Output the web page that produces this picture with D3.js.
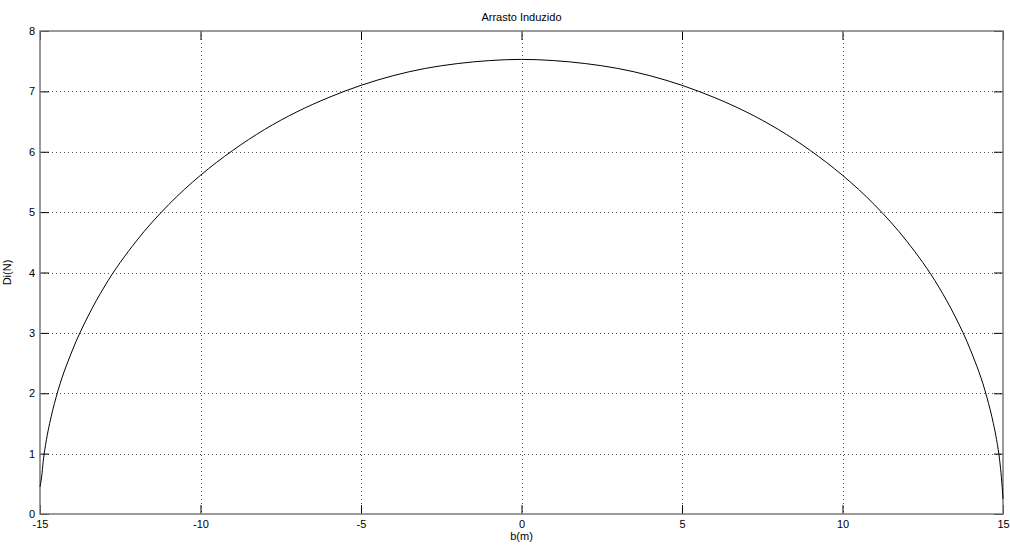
<!DOCTYPE html>
<html>
<head>
<meta charset="utf-8">
<script src="https://cdn.jsdelivr.net/npm/d3@7"></script>
<style>
  body { margin: 0; background: #fff; }
  svg { display: block; }
  text { font-family: Arial, "Liberation Sans", Helvetica, sans-serif; font-size: 11px; fill: #000; }
  .grid line { stroke: #555; stroke-dasharray: 1,3; shape-rendering: crispEdges; }
</style>
</head>
<body>
<svg id="chart"></svg>
<script>
// valores
const spanB = [-15, -14.95, -14.9, -14.8, -14.7, -14.5, -14, -13.5, -13, -12, -11, -10, -9, -8, -7, -6, -5, -4, -3, -2, -1,
  0, 1, 2, 3, 4, 5, 6, 7, 8, 9, 10, 11, 12, 13, 13.5, 14, 14.5, 14.7, 14.8, 14.9, 14.95, 15];
const dragDi = [0.45, 0.61, 0.87, 1.23, 1.50, 1.93, 2.70, 3.28, 3.76, 4.52, 5.12, 5.61, 6.02, 6.37, 6.66, 6.90, 7.10, 7.26, 7.38, 7.46, 7.51,
  7.53, 7.51, 7.46, 7.38, 7.26, 7.10, 6.90, 6.66, 6.37, 6.02, 5.61, 5.12, 4.52, 3.76, 3.28, 2.70, 1.93, 1.50, 1.23, 0.87, 0.61, 0.25];
const xTicks = [-15, -10, -5, 0, 5, 10, 15];
const yTicks = [0, 1, 2, 3, 4, 5, 6, 7, 8];

const width = 1010, height = 549;
const pLeft = 40, pRight = 1003, pTop = 31, pBottom = 514;

const svg = d3.select('#chart').attr('width', width).attr('height', height);

const x = d3.scaleLinear().domain([-15, 15]).range([pLeft, pRight]);
const y = d3.scaleLinear().domain([0, 8]).range([pBottom, pTop]);

// grade pontilhada
const grid = svg.append('g').attr('class', 'grid');
grid.selectAll('line.v').data(xTicks.slice(1, -1)).enter().append('line')
  .attr('x1', d => Math.round(x(d)) + 0.5).attr('x2', d => Math.round(x(d)) + 0.5)
  .attr('y1', pTop).attr('y2', pBottom);
grid.selectAll('line.h').data(yTicks.slice(1, -1)).enter().append('line')
  .attr('y1', d => Math.round(y(d)) + 0.5).attr('y2', d => Math.round(y(d)) + 0.5)
  .attr('x1', pLeft).attr('x2', pRight);

// eixos (ticks para dentro), rótulos com hífen como no matlab
const tickLen = 9;
const fmt = d => String(d);
const xAxis = svg.append('g').attr('transform', `translate(0,${pBottom})`)
  .call(d3.axisBottom(x).tickValues(xTicks).tickFormat(fmt).tickSizeInner(-tickLen).tickSizeOuter(0));
const xAxisTop = svg.append('g').attr('transform', `translate(0,${pTop})`)
  .call(d3.axisTop(x).tickValues(xTicks).tickSizeInner(-tickLen).tickSizeOuter(0).tickFormat(''));
const yAxis = svg.append('g').attr('transform', `translate(${pLeft},0)`)
  .call(d3.axisLeft(y).tickValues(yTicks).tickFormat(fmt).tickSizeInner(-tickLen).tickSizeOuter(0));
const yAxisRight = svg.append('g').attr('transform', `translate(${pRight},0)`)
  .call(d3.axisRight(y).tickValues(yTicks).tickSizeInner(-tickLen).tickSizeOuter(0).tickFormat(''));

[xAxis, xAxisTop, yAxis, yAxisRight].forEach(a => {
  a.select('.domain').remove();
  a.selectAll('.tick line').attr('stroke', '#000');
  a.selectAll('text').attr('font-size', 11).attr('font-family', 'Arial, "Liberation Sans", sans-serif');
});
xAxis.selectAll('text').attr('dy', '0.32em').attr('y', 10);
yAxis.selectAll('text').attr('x', -5);

// caixa dos eixos
svg.append('rect')
  .attr('x', pLeft).attr('y', pTop)
  .attr('width', pRight - pLeft).attr('height', pBottom - pTop)
  .attr('fill', 'none').attr('stroke', '#7a7a7a').attr('stroke-width', 1.5);

// curva
const line = d3.line()
  .x((d, i) => x(spanB[i]))
  .y(d => y(d))
  .curve(d3.curveMonotoneX);
svg.append('path')
  .datum(dragDi)
  .attr('d', line)
  .attr('fill', 'none')
  .attr('stroke', '#000')
  .attr('stroke-width', 1);

// textos
svg.append('text').attr('x', (pLeft + pRight) / 2).attr('y', 20.5)
  .attr('text-anchor', 'middle').text('Arrasto Induzido');
svg.append('text').attr('x', (pLeft + pRight) / 2).attr('y', 540)
  .attr('text-anchor', 'middle').text('b(m)');
svg.append('text')
  .attr('transform', `translate(11,${(pTop + pBottom) / 2}) rotate(-90)`)
  .attr('text-anchor', 'middle').text('Di(N)');
</script>
</body>
</html>
